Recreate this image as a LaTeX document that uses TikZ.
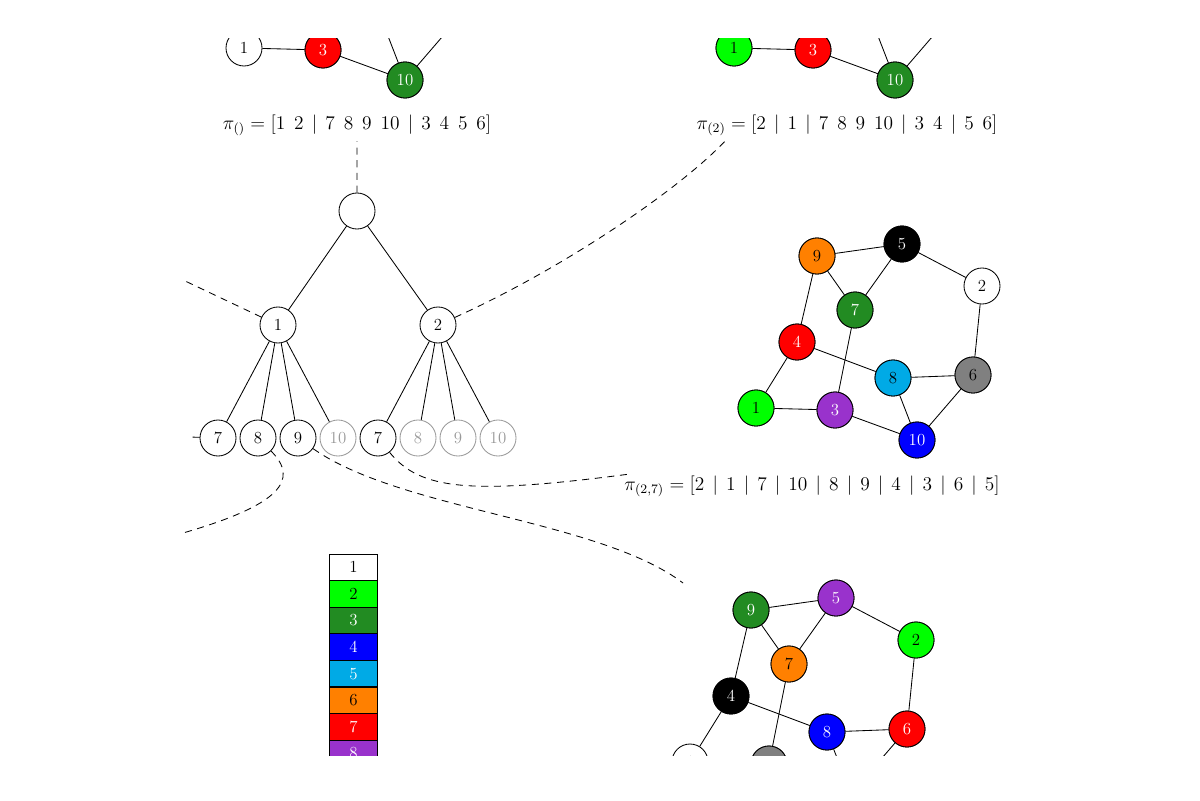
\documentclass[tikz,border=0pt]{standalone}
\usepackage{xcolor}
\definecolor{fg}{RGB}{34,139,34}
\definecolor{gr}{RGB}{0,255,0}
\definecolor{cy}{RGB}{0,170,230}
\definecolor{org}{RGB}{255,128,0}
\definecolor{pur}{RGB}{153,50,204}
\definecolor{gy}{RGB}{128,128,128}
\newcommand\SP{\hspace{5.5pt}}
\newcommand\MD{\hspace{1.7pt}\mid\hspace{1.7pt}}
\begin{document}
\begin{tikzpicture}[x=0.025cm,y=-0.025cm,font=\large,line width=0.6pt,
  v/.style={circle,draw,minimum size=0.9cm,inner sep=0pt},
  g/.style={v,draw=gray!80,text=gray!80},
  lb/.style={draw,minimum width=1.2cm,minimum height=0.66cm,inner sep=0pt},
  pl/.style={scale=1.15},
  dl/.style={dashed,dash pattern=on 5pt off 4pt}]
\useasboundingbox (0,0) rectangle (1200,800);
\clip (183,39) rectangle (1017,755);
\def\G#1#2#3{% prefix, dx, dy
 \begin{scope}[shift={(#2,#3)}]
  \node[v] (#1-9) at (817,256) {9};
  \node[v] (#1-5) at (902,244) {5};
  \node[v] (#1-2) at (982,286) {2};
  \node[v] (#1-7) at (855,310) {7};
  \node[v] (#1-4) at (797,342) {4};
  \node[v] (#1-8) at (893,378) {8};
  \node[v] (#1-6) at (973,375) {6};
  \node[v] (#1-1) at (756,408) {1};
  \node[v] (#1-3) at (835,410) {3};
  \node[v] (#1-10) at (917,440) {10};
 \end{scope}
 \foreach \a/\b in {9/5,9/7,7/5,5/2,9/4,4/1,4/8,7/3,1/3,3/10,8/10,8/6,6/10,2/6}
   \draw (#1-\a) -- (#1-\b);}
\G{a}{-512}{-360}
\G{b}{-22}{-360}
\G{c}{0}{0}
\G{d}{-66}{354}
\tikzset{col/.style 2 args={fill=#1,text=#2}}
\foreach \n/\c/\t in {3/red/white,10/fg/white}{\node[v,col={\c}{\t}] at (a-\n) {\n};}
\foreach \n/\c/\t in {1/gr/black,3/red/white,10/fg/white}{\node[v,col={\c}{\t}] at (b-\n) {\n};}
\foreach \n/\c/\t in {1/gr/black,3/pur/white,4/red/white,5/black/white,6/gy/black,7/fg/white,8/cy/black,9/org/black,10/blue/white}{\node[v,col={\c}{\t}] at (c-\n) {\n};}
\foreach \n/\c/\t in {9/fg/white,5/pur/white,2/gr/black,7/org/black,4/black/white,8/blue/white,6/red/white,3/gy/white}{\node[v,col={\c}{\t}] at (d-\n) {\n};}
\node[pl] (l0) at (357,125) {$\pi_{()} = [1\SP2\MD7\SP8\SP9\SP10\MD3\SP4\SP5\SP6]$};
\node[pl] (l2) at (847,125) {$\pi_{(2)} = [2\MD1\MD7\SP8\SP9\SP10\MD3\SP4\MD5\SP6]$};
\node[pl] (l27) at (812,486) {$\pi_{(2,7)} = [2\MD1\MD7\MD10\MD8\MD9\MD4\MD3\MD6\MD5]$};
\node[v] (r) at (357,211) {};
\node[v] (t1) at (278,325) {1};
\node[v] (t2) at (438,325) {2};
\node[v] (t17) at (218,438) {7};
\node[v] (t18) at (258,438) {8};
\node[v] (t19) at (298,438) {9};
\node[g] (t110) at (338,438) {10};
\node[v] (t27) at (378,438) {7};
\node[g] (t28) at (418,438) {8};
\node[g] (t29) at (458,438) {9};
\node[g] (t210) at (498,438) {10};
\draw (r)--(t1) (r)--(t2);
\foreach \x in {7,8,9,10}{\draw (t1)--(t1\x); \draw (t2)--(t2\x);}
\coordinate (e1) at (183,280);
\coordinate (e2) at (190,437);
\coordinate (e3) at (183,533);
\coordinate (e4) at (683,583);
\coordinate (e5) at (630,474);
\coordinate (e6) at (728,138);
\draw[dl] (r) -- (l0);
\draw[dl] (t1) -- (e1);
\draw[dl] (t17) -- (e2);
\draw[dl] (t2) .. controls (560,270) and (680,190) .. (e6);
\draw[dl] (t18) .. controls (300,480) and (280,505) .. (e3);
\draw[dl] (t19) .. controls (400,510) and (600,520) .. (e4);
\draw[dl] (t27) .. controls (420,490) and (470,495) .. (e5);
\foreach \i/\c/\t in {1/white/black,2/gr/black,3/fg/white,4/blue/white,5/cy/white,6/org/black,7/red/white,8/pur/white}
  \node[lb,fill=\c,text=\t] (k\i) at (353.5,554+26.6*\i-13.3) {\i};
\end{tikzpicture}
\end{document}
